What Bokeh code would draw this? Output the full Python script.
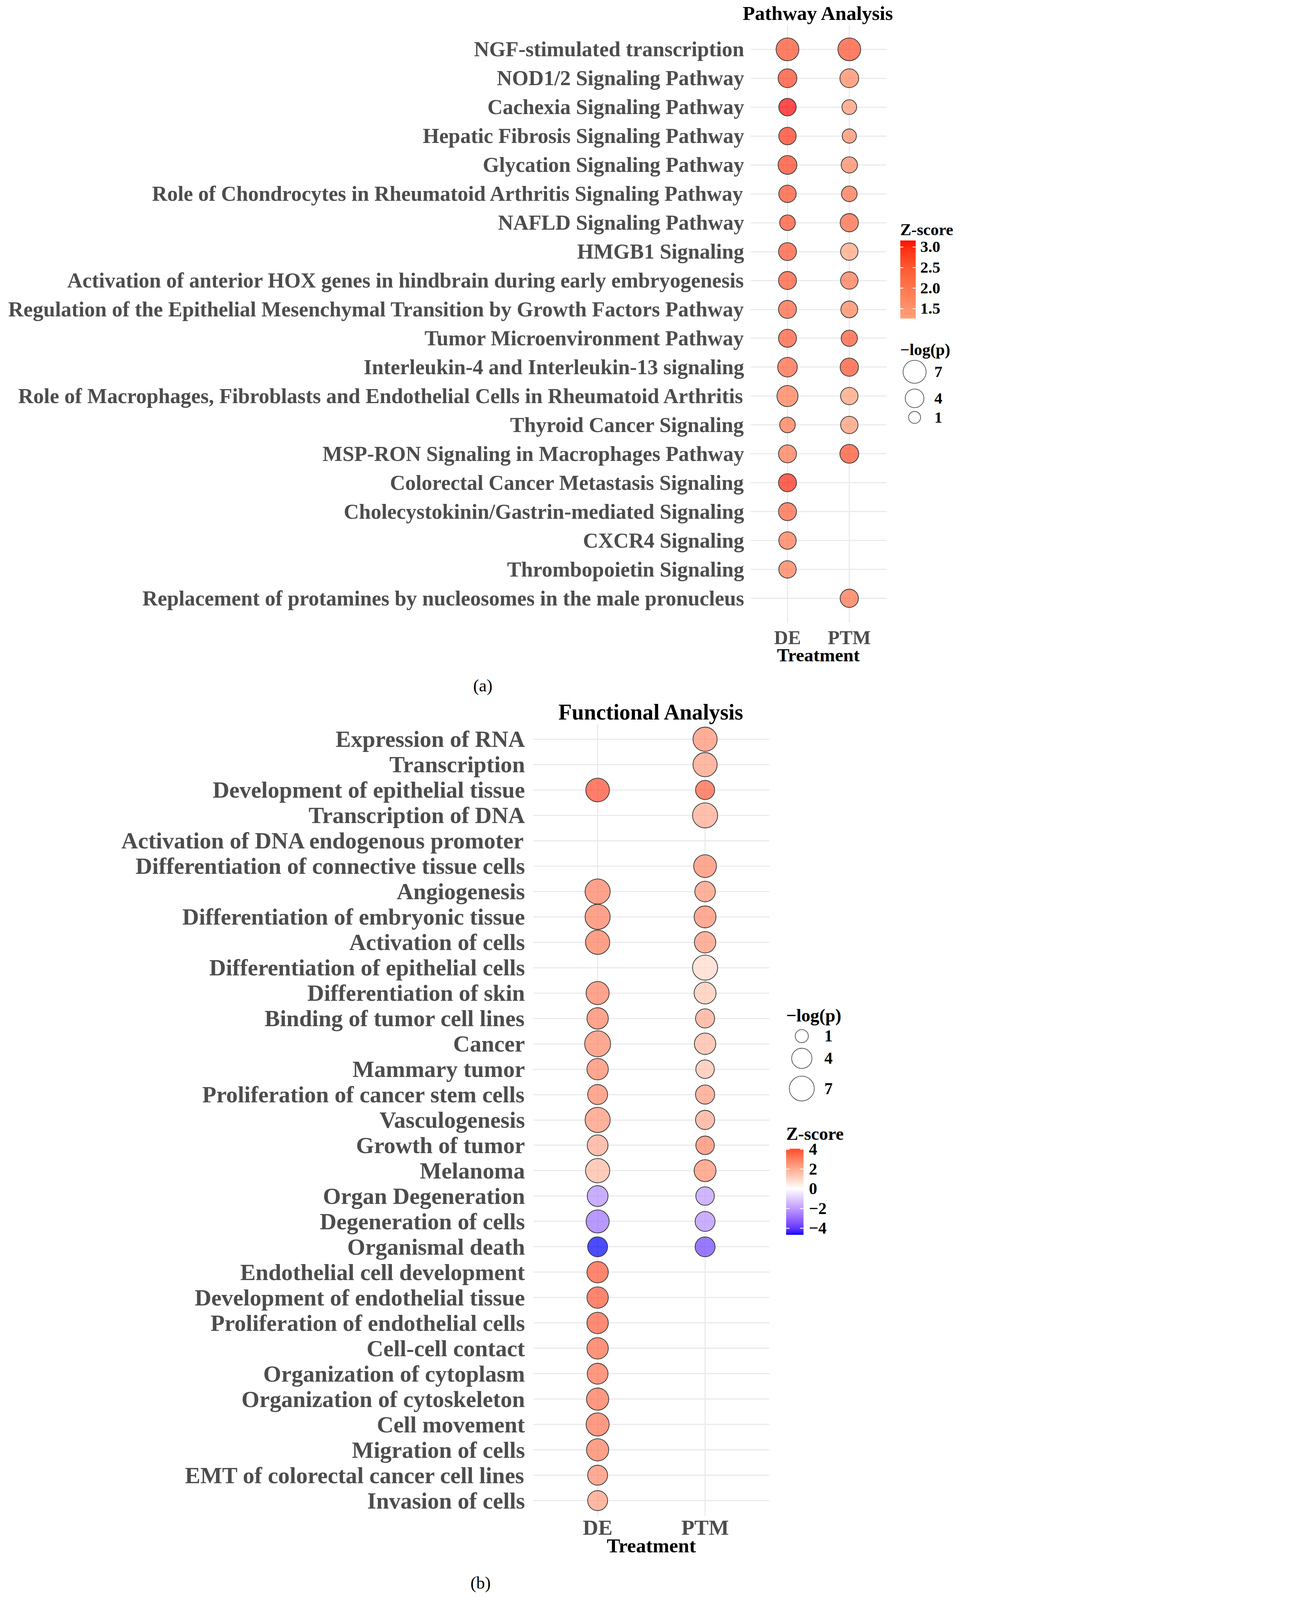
import math
import numpy as np
from bokeh.plotting import figure
from bokeh.models import ColumnDataSource, FactorRange, Range1d, LinearColorMapper
from bokeh.layouts import column, row
from bokeh.embed import file_html
from bokeh.resources import INLINE
from bokeh.core.properties import value

FONT = "Liberation Serif"
TREATMENTS = ["DE", "PTM"]
S = 0.73  # uniform scale so that the whole page stays inside the photographed area

# ---------------- Panel (a) data: Pathway Analysis ----------------
pathways = [
    "NGF-stimulated transcription",
    "NOD1/2 Signaling Pathway",
    "Cachexia Signaling Pathway",
    "Hepatic Fibrosis Signaling Pathway",
    "Glycation Signaling Pathway",
    "Role of Chondrocytes in Rheumatoid Arthritis Signaling Pathway",
    "NAFLD Signaling Pathway",
    "HMGB1 Signaling",
    "Activation of anterior HOX genes in hindbrain during early embryogenesis",
    "Regulation of the Epithelial Mesenchymal Transition by Growth Factors Pathway",
    "Tumor Microenvironment Pathway",
    "Interleukin-4 and Interleukin-13 signaling",
    "Role of Macrophages, Fibroblasts and Endothelial Cells in Rheumatoid Arthritis",
    "Thyroid Cancer Signaling",
    "MSP-RON Signaling in Macrophages Pathway",
    "Colorectal Cancer Metastasis Signaling",
    "Cholecystokinin/Gastrin-mediated Signaling",
    "CXCR4 Signaling",
    "Thrombopoietin Signaling",
    "Replacement of protamines by nucleosomes in the male pronucleus",
]
pw_de_logp = [6.85, 4.1, 3.3, 3.3, 4.1, 3.3, 2.4, 3.6, 3.6, 3.6, 3.6, 4.6, 5.6, 2.4, 3.6,
              3.6, 3.6, 3.3, 3.3, None]
pw_de_z = [2.70, 2.80, 3.16, 2.93, 2.82, 2.70, 2.70, 2.65, 2.60, 2.44, 2.57, 2.40, 2.06, 2.10,
           2.10, 3.03, 2.44, 2.10, 2.06, None]
pw_ptm_logp = [6.85, 4.1, 2.0, 1.8, 2.7, 2.4, 3.75, 3.3, 3.3, 3.0, 2.7, 3.75, 3.3, 3.3, 4.1,
               None, None, None, None, 3.75]
pw_ptm_z = [2.70, 1.83, 1.49, 1.72, 1.81, 2.19, 2.40, 1.26, 2.10, 1.90, 2.60, 2.68, 1.37, 1.49,
            2.70, None, None, None, None, 2.21]
pw_size_breaks = [7, 4, 1]
pw_z_ticks = [1.5, 2.0, 2.5, 3.0]
pw_z_labels = ["1.5", "2.0", "2.5", "3.0"]

# ---------------- Panel (b) data: Functional Analysis ----------------
functions = [
    "Expression of RNA",
    "Transcription",
    "Development of epithelial tissue",
    "Transcription of DNA",
    "Activation of DNA endogenous promoter",
    "Differentiation of connective tissue cells",
    "Angiogenesis",
    "Differentiation of embryonic tissue",
    "Activation of cells",
    "Differentiation of epithelial cells",
    "Differentiation of skin",
    "Binding of tumor cell lines",
    "Cancer",
    "Mammary tumor",
    "Proliferation of cancer stem cells",
    "Vasculogenesis",
    "Growth of tumor",
    "Melanoma",
    "Organ Degeneration",
    "Degeneration of cells",
    "Organismal death",
    "Endothelial cell development",
    "Development of endothelial tissue",
    "Proliferation of endothelial cells",
    "Cell-cell contact",
    "Organization of cytoplasm",
    "Organization of cytoskeleton",
    "Cell movement",
    "Migration of cells",
    "EMT of colorectal cancer cell lines",
    "Invasion of cells",
]
fn_de_logp = [None, None, 6.15, None, None, None, 7.2, 7.2, 6.55, None, 5.76, 4.67, 7.84, 4.67,
              3.84, 7.2, 4.33, 6.55, 4.33, 5.76, 3.84, 4.67, 4.67, 4.67, 4.67, 4.33, 5.2, 5.76,
              5.2, 3.84, 3.84]
fn_de_z = [None, None, 4.06, None, None, None, 3.10, 3.10, 3.17, None, 3.03, 3.03, 2.90, 2.95,
           2.90, 2.60, 2.10, 1.72, -2.33, -2.90, -4.66, 3.87, 3.87, 3.73, 3.50, 3.36, 3.36, 3.30,
           3.17, 2.80, 2.42]
fn_ptm_logp = [6.55, 6.55, 3.39, 7.2, None, 5.57, 4.16, 5.0, 4.67, 7.2, 5.0, 3.39, 4.67, 3.1,
               3.39, 3.39, 3.1, 5.0, 3.1, 3.84, 3.84, None, None, None, None, None, None, None,
               None, None, None]
fn_ptm_z = [2.75, 2.42, 3.73, 2.15, None, 2.90, 2.58, 2.80, 2.58, 0.93, 1.40, 2.15, 1.72, 1.50,
            2.42, 2.10, 2.95, 2.75, -2.10, -2.30, -3.80, None, None, None, None, None, None,
            None, None, None, None]
fn_size_breaks = [1, 4, 7]
fn_z_ticks = [-4, -2, 0, 2, 4]
fn_z_labels = ["\u22124", "\u22122", "0", "2", "4"]


# ---------------- helpers ----------------
def px(v):
    return int(round(v * S))


def fs(v):
    return "%.1fpx" % (v * S)


def _hex_to_rgb(h):
    h = h.lstrip("#")
    return [int(h[i:i + 2], 16) / 255 for i in (0, 2, 4)]


def _lin(c):
    return c / 12.92 if c <= 0.04045 else ((c + 0.055) / 1.055) ** 2.4


def _delin(c):
    return 12.92 * c if c <= 0.0031308 else 1.055 * c ** (1 / 2.4) - 0.055


def hex_to_lab(h):
    r, g, b = [_lin(c) for c in _hex_to_rgb(h)]
    X = (0.4124 * r + 0.3576 * g + 0.1805 * b) / 0.95047
    Y = 0.2126 * r + 0.7152 * g + 0.0722 * b
    Z = (0.0193 * r + 0.1192 * g + 0.9505 * b) / 1.08883

    def f(t):
        return t ** (1 / 3) if t > (6 / 29) ** 3 else t / (3 * (6 / 29) ** 2) + 4 / 29
    fx, fy, fz = f(X), f(Y), f(Z)
    return (116 * fy - 16, 500 * (fx - fy), 200 * (fy - fz))


def lab_to_hex(L, a, b):
    fy = (L + 16) / 116
    fx = fy + a / 500
    fz = fy - b / 200

    def finv(t):
        return t ** 3 if t > 6 / 29 else 3 * (6 / 29) ** 2 * (t - 4 / 29)
    X, Y, Z = 0.95047 * finv(fx), finv(fy), 1.08883 * finv(fz)
    r = 3.2406 * X - 1.5372 * Y - 0.4986 * Z
    g = -0.9689 * X + 1.8758 * Y + 0.0415 * Z
    bb = 0.0557 * X - 0.2040 * Y + 1.0570 * Z
    out = [min(1.0, max(0.0, _delin(max(0.0, c)))) for c in (r, g, bb)]
    return "#%02x%02x%02x" % tuple(int(round(c * 255)) for c in out)


def lab_mix(c1, c2, t):
    l1, l2 = hex_to_lab(c1), hex_to_lab(c2)
    return lab_to_hex(*[l1[i] + (l2[i] - l1[i]) * t for i in range(3)])


def vals(v):
    return [x for x in v if x is not None]


N = 256
za_lo = min(vals(pw_de_z) + vals(pw_ptm_z))
za_hi = max(vals(pw_de_z) + vals(pw_ptm_z))
pal_a = [lab_mix("#FFA07A", "#FF0000", i / (N - 1)) for i in range(N)]

zb_lo = min(vals(fn_de_z) + vals(fn_ptm_z))
zb_hi = max(vals(fn_de_z) + vals(fn_ptm_z))
zb_abs = max(abs(zb_lo), abs(zb_hi))
pal_b = []
for i in range(N):
    v = zb_lo + (zb_hi - zb_lo) * i / (N - 1)
    t = 0.5 + v / (2 * zb_abs)
    if t < 0.5:
        pal_b.append(lab_mix("#0000FF", "#FFFFFF", t / 0.5))
    else:
        pal_b.append(lab_mix("#FFFFFF", "#FF0000", (t - 0.5) / 0.5))

mapper_a = LinearColorMapper(palette=pal_a, low=za_lo, high=za_hi)
mapper_b = LinearColorMapper(palette=pal_b, low=zb_lo, high=zb_hi)


def size_a(v):  # bubble diameter (reference px) for a -log(p) value, panel (a)
    return 18.5 + 23.5 * math.sqrt(v)


def size_b(v):  # panel (b)
    return 21.0 + 25.0 * math.sqrt(v)


def build_source(terms, de_logp, de_z, ptm_logp, ptm_z, sizer):
    d = dict(trt=[], term=[], logp=[], z=[], size=[])
    for trt, lp, zz in (("DE", de_logp, de_z), ("PTM", ptm_logp, ptm_z)):
        for term, l, z in zip(terms, lp, zz):
            if l is None or z is None:
                continue
            d["trt"].append(trt)
            d["term"].append(term)
            d["logp"].append(l)
            d["z"].append(z)
            d["size"].append(sizer(l) * S)
    return ColumnDataSource(d)


def main_panel(terms, src, mapper, title, W, H, left, right, top, bottom,
               ypad, ylab_size, xlab_size, axis_title_size, title_size,
               ystandoff, xstandoff, axis_label_standoff, title_standoff):
    p = figure(width=px(W), height=px(H), output_backend="svg", toolbar_location=None,
               x_range=FactorRange(factors=TREATMENTS, range_padding=0.1),
               y_range=FactorRange(factors=list(reversed(terms)), range_padding=ypad),
               min_border_left=px(left), min_border_right=px(right),
               min_border_top=px(top), min_border_bottom=px(bottom))
    p.scatter(x="trt", y="term", size="size", source=src,
              fill_color={"field": "z", "transform": mapper}, fill_alpha=0.7,
              line_color="#333333", line_width=2.5 * S)
    p.title.text = title
    p.title.align = "center"
    p.title.text_font = FONT
    p.title.text_font_style = "bold"
    p.title.text_font_size = fs(title_size)
    p.title.text_color = "black"
    p.title.standoff = px(title_standoff)
    p.outline_line_color = None
    p.grid.grid_line_color = "#EBEBEB"
    p.grid.grid_line_width = 4 * S
    p.axis.axis_line_color = None
    p.axis.major_tick_line_color = None
    p.axis.minor_tick_line_color = None
    p.axis.major_label_text_font = FONT
    p.axis.major_label_text_font_style = "bold"
    p.axis.major_label_text_color = "#4D4D4D"
    p.yaxis.major_label_text_font_size = fs(ylab_size)
    p.xaxis.major_label_text_font_size = fs(xlab_size)
    p.yaxis.major_label_standoff = px(ystandoff)
    p.xaxis.major_label_standoff = px(xstandoff)
    p.xaxis.axis_label = "Treatment"
    p.xaxis.axis_label_text_font = FONT
    p.xaxis.axis_label_text_font_style = "bold"
    p.xaxis.axis_label_text_font_size = fs(axis_title_size)
    p.xaxis.axis_label_text_color = "black"
    p.xaxis.axis_label_standoff = px(axis_label_standoff)
    return p


def blank(W, H, top=0, bottom=0):
    """Figure whose data units are reference pixels; y is (H - distance from the top).
    top/bottom borders match the neighbouring plot so the row keeps its frames aligned."""
    p = figure(width=px(W), height=px(H), output_backend="svg", toolbar_location=None,
               x_range=Range1d(0, W), y_range=Range1d(bottom, H - top),
               x_axis_type=None, y_axis_type=None, min_border=0,
               min_border_top=px(top), min_border_bottom=px(bottom))
    p.outline_line_color = None
    p.grid.visible = False
    return p


def legend_text(p, H, xs, ys, txts, size):
    p.text(x=xs, y=[H - y for y in ys], text=txts, text_font=value(FONT),
           text_font_style="bold", text_font_size=fs(size), text_align="left",
           text_baseline="middle", text_color="black")


def colour_bar(p, H, mapper, ticks, labels, x0, w, top, bottom, standoff, font_size):
    lo, hi = mapper.low, mapper.high
    n = 256
    img = np.linspace(lo, hi, n).reshape(n, 1)
    p.image(image=[img], x=x0, y=H - bottom, dw=w, dh=bottom - top, color_mapper=mapper)
    ys = [bottom - (t - lo) / (hi - lo) * (bottom - top) for t in ticks]
    tl = w / 5.0
    p.segment(x0=[x0] * len(ys), x1=[x0 + tl] * len(ys), y0=[H - y for y in ys],
              y1=[H - y for y in ys], line_color="white", line_width=3 * S)
    p.segment(x0=[x0 + w - tl] * len(ys), x1=[x0 + w] * len(ys), y0=[H - y for y in ys],
              y1=[H - y for y in ys], line_color="white", line_width=3 * S)
    legend_text(p, H, [x0 + w + standoff] * len(ys), ys, labels, font_size)


def size_keys(p, H, breaks, sizer, cx, ys, lx, font_size):
    p.scatter(x=[cx] * len(ys), y=[H - y for y in ys], size=[sizer(v) * S for v in breaks],
              fill_color="white", line_color="#555555", line_width=2.5 * S)
    legend_text(p, H, [lx] * len(ys), ys, [str(v) for v in breaks], font_size)


# ---------------- Panel (a) ----------------
HA = 2360
WA = 3147
TA, BA = 84, HA - 2183
src_a = build_source(pathways, pw_de_logp, pw_de_z, pw_ptm_logp, pw_ptm_z, size_a)
fa = main_panel(pathways, src_a, mapper_a, "Pathway Analysis", WA, HA,
                left=2630, right=40, top=TA, bottom=BA, ypad=0.035,
                ylab_size=74, xlab_size=68, axis_title_size=65, title_size=70,
                ystandoff=14, xstandoff=6, axis_label_standoff=-16, title_standoff=6)

WLA = 3352 - WA
la = blank(WLA, HA, TA, BA)
legend_text(la, HA, [9], [803], ["Z-score"], 58)
colour_bar(la, HA, mapper_a, pw_z_ticks, pw_z_labels, 9, 54, 841, 1115, 16, 56)
legend_text(la, HA, [9], [1224], ["\u2212log(p)"], 57)
size_keys(la, HA, pw_size_breaks, size_a, 59, [1302, 1395, 1462], 128, 56)

cap_a = blank(3352, 90)
cap_a.text(x=[1692], y=[90 - 43], text=["(a)"], text_font=value(FONT), text_font_size=fs(61),
           text_align="center", text_baseline="middle", text_color="black")

# ---------------- Panel (b) ----------------
HB = 3030
WB = 2712
TB, BB = 86, HB - 2864
src_b = build_source(functions, fn_de_logp, fn_de_z, fn_ptm_logp, fn_ptm_z, size_b)
fb = main_panel(functions, src_b, mapper_b, "Functional Analysis", WB, HB,
                left=1869, right=15, top=TB, bottom=BB, ypad=0.2 / 31,
                ylab_size=81, xlab_size=75, axis_title_size=70, title_size=77,
                ystandoff=21, xstandoff=-10, axis_label_standoff=-22, title_standoff=0)

WLB = 3352 - WB
lb = blank(WLB, HB, TB, BB)
legend_text(lb, HB, [43], [1109], ["\u2212log(p)"], 63)
size_keys(lb, HB, fn_size_breaks, size_b, 98, [1181, 1259, 1365], 177, 58)
legend_text(lb, HB, [43], [1523], ["Z-score"], 63)
colour_bar(lb, HB, mapper_b, fn_z_ticks, fn_z_labels, 43, 61, 1576, 1878, 19, 58)

cap_b = blank(3352, 110)
cap_b.text(x=[1684], y=[110 - 69], text=["(b)"], text_font=value(FONT), text_font_size=fs(61),
           text_align="center", text_baseline="middle", text_color="black")

layout = column(row(fa, la), cap_a, row(fb, lb), cap_b)
open("out.html", "w").write(file_html(layout, INLINE))
